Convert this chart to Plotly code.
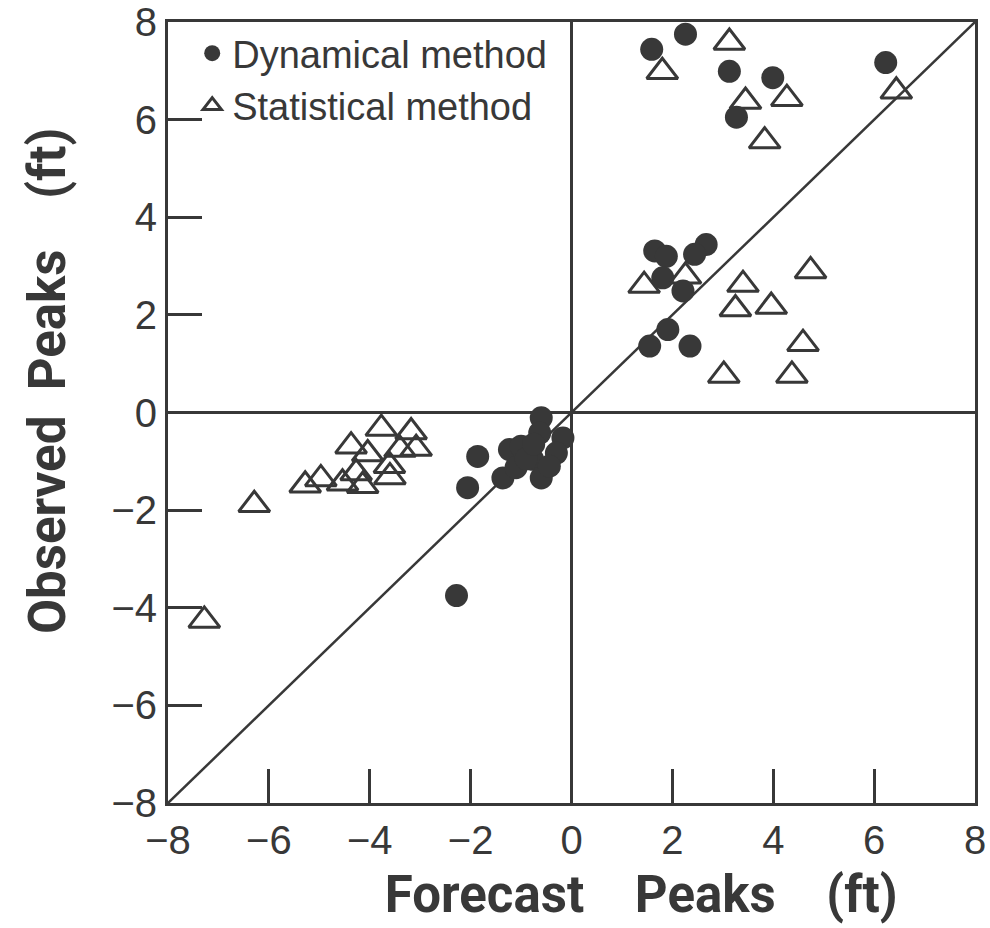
import plotly.graph_objects as go

# Dynamical method (filled circles): forecast (x), observed (y)
dyn_x = [1.59, 2.26, 3.13, 3.27, 3.99, 6.23,
         1.65, 1.88, 2.67, 2.44, 1.81, 2.21, 1.91, 1.55, 2.35,
         -0.60, -0.17, -0.63, -1.23, -1.00, -1.86, -2.06, -1.36, -1.10,
         -0.77, -0.60, -0.30, -0.44, -0.90, -0.75, -2.28]
dyn_y = [7.44, 7.75, 6.99, 6.05, 6.86, 7.17,
         3.31, 3.20, 3.44, 3.24, 2.76, 2.49, 1.70, 1.36, 1.36,
         -0.11, -0.52, -0.42, -0.76, -0.69, -0.90, -1.54, -1.34, -1.13,
         -0.96, -1.34, -0.83, -1.10, -0.95, -0.65, -3.75]

# Statistical method (open triangles)
sta_x = [3.13, 1.80, 3.45, 4.27, 3.83, 6.44,
         1.44, 2.26, 3.40, 3.25, 3.96, 4.74, 4.59, 3.02, 4.37,
         -3.77, -3.18, -4.37, -4.04, -3.40, -3.08, -3.61, -3.60, -4.27,
         -4.54, -4.14, -4.97, -5.28, -6.29, -7.28]
sta_y = [7.58, 6.98, 6.37, 6.43, 5.56, 6.58,
         2.60, 2.79, 2.62, 2.12, 2.17, 2.90, 1.41, 0.76, 0.76,
         -0.33, -0.40, -0.69, -0.85, -0.76, -0.74, -1.09, -1.32, -1.24,
         -1.45, -1.50, -1.36, -1.49, -1.89, -4.26]

tick_vals = [-8, -6, -4, -2, 0, 2, 4, 6, 8]
tick_text = ["\u22128", "\u22126", "\u22124", "\u22122", "0", "2", "4", "6", "8"]

ink = "#383838"
nb = "\u00a0"
zw = "\u200b"

fig = go.Figure()
fig.add_trace(go.Scatter(
    x=dyn_x, y=dyn_y, mode="markers", name="Dynamical method",
    marker=dict(symbol="circle", size=23, color=ink, line=dict(width=0)),
))
fig.add_trace(go.Scatter(
    x=sta_x, y=sta_y, mode="markers", name="Statistical method",
    marker=dict(symbol="triangle-up-open", size=27, color=ink, line=dict(width=3, color=ink)),
))

# 1:1 line
fig.add_shape(type="line", x0=-8, y0=-8, x1=8, y1=8, xref="x", yref="y",
              line=dict(color=ink, width=2.5), layer="below")

axis_common = dict(
    range=[-8, 8], tickvals=tick_vals, ticktext=tick_text,
    ticks="inside", ticklen=34, tickwidth=2.5, tickcolor=ink,
    showline=True, linewidth=3, linecolor=ink, mirror=True,
    showgrid=False, zeroline=True, zerolinecolor=ink, zerolinewidth=2.5,
    ticklabeloverflow="allow", automargin=False,
    tickfont=dict(family="Liberation Sans, Arial, sans-serif", size=40, color=ink),
)

title_font = dict(family="Roboto, Liberation Sans Narrow, sans-serif", size=51, color=ink, weight="bold")

fig.update_layout(
    width=990, height=928,
    margin=dict(l=168, r=15, t=22, b=125),
    paper_bgcolor="white", plot_bgcolor="white",
    xaxis=dict(**axis_common,
               title=dict(text=zw + nb * 11 + "Forecast" + nb * 4 + "Peaks" + nb * 4 + "(ft)" + zw,
                          font=title_font, standoff=16)),
    yaxis=dict(**axis_common,
               title=dict(text=zw + nb * 5 + "Observed" + nb * 2 + "Peaks" + nb * 4 + "(ft)" + zw,
                          font=title_font, standoff=30)),
    legend=dict(x=0.03, y=1.0, xanchor="left", yanchor="top",
                bgcolor="rgba(0,0,0,0)",
                font=dict(family="Liberation Sans, Arial, sans-serif", size=38, color=ink),
                itemsizing="trace", tracegroupgap=0),
    showlegend=True,
)

fig.write_html("out.html")
